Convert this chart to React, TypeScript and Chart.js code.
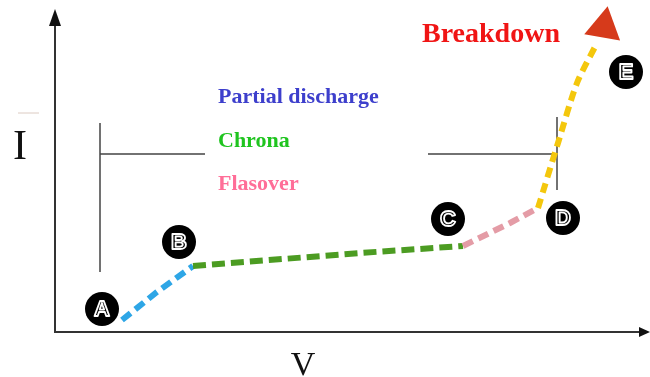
import { useEffect, useRef } from "react";
import { Chart, registerables } from "chart.js";

Chart.register(...registerables);

// Data space: V (horizontal) and I (vertical), axis origin at (0, 0)
const vMax = 595;
const iMax = 327;
const axisTopI = 323;

// Curve segments as [V, I] pairs
const partialDischarge: [number, number][] = [[67, 12], [102, 40], [138, 66]];
const chrona: [number, number][] = [[138, 66], [305, 79], [408, 86]];
const flasover: [number, number][] = [[408, 86], [455, 109], [483, 124]];
const breakdown: [number, number][] = [[483, 124], [503, 189], [522, 249], [542, 289]];
const arrowHead: [number, number][] = [[549, 305]];

// Marked stages
const stageNames = ["A", "B", "C", "D", "E"];
const stageV = [47, 124, 393, 508, 571];
const stageI = [23, 90, 113, 114, 260];

// Bracket guide lines (null separates pieces)
const bracketLines: ([number, number] | null)[] = [
  [45, 209], [45, 60], null,
  [45, 178], [150, 178], null,
  [373, 178], [502, 178], null,
  [502, 215], [502, 142],
];

// Text annotations
const noteTexts = ["Breakdown", "Partial discharge", "Chrona", "Flasover"];
const noteV = [367, 163, 163, 163];
const noteI = [290, 229, 185, 142];

const xTitle = "V";
const yTitle = "I";

const toPts = (arr: ([number, number] | null)[]) =>
  arr.map((p) => (p ? { x: p[0], y: p[1] } : { x: NaN, y: NaN }));

export default function App() {
  const ref = useRef<HTMLCanvasElement | null>(null);

  useEffect(() => {
    if (!ref.current) return;

    const overlay = {
      id: "overlay",
      beforeDatasetsDraw(chart: any) {
        const { ctx, scales } = chart;
        const x = scales.x;
        const y = scales.y;
        const ox = x.getPixelForValue(0);
        const oy = y.getPixelForValue(0);
        const topY = y.getPixelForValue(axisTopI);
        const rightX = x.getPixelForValue(vMax);
        ctx.save();
        ctx.strokeStyle = "#333";
        ctx.fillStyle = "#111";
        ctx.lineWidth = 2;
        ctx.beginPath();
        ctx.moveTo(ox, topY + 14);
        ctx.lineTo(ox, oy);
        ctx.lineTo(rightX - 9, oy);
        ctx.stroke();
        // y arrow
        ctx.beginPath();
        ctx.moveTo(ox, topY);
        ctx.lineTo(ox - 6, topY + 17);
        ctx.lineTo(ox + 6, topY + 17);
        ctx.closePath();
        ctx.fill();
        // x arrow
        ctx.beginPath();
        ctx.moveTo(rightX, oy);
        ctx.lineTo(rightX - 11, oy - 5);
        ctx.lineTo(rightX - 11, oy + 5);
        ctx.closePath();
        ctx.fill();

        // axis titles
        ctx.fillStyle = "#111";
        ctx.textAlign = "center";
        ctx.textBaseline = "alphabetic";
        ctx.font = "42px 'Liberation Serif'";
        ctx.fillText(yTitle, x.getPixelForValue(-35), y.getPixelForValue(173));
        ctx.font = "34px 'Liberation Serif'";
        ctx.fillText(xTitle, x.getPixelForValue(248), y.getPixelForValue(-43));
        // small mark above I
        ctx.strokeStyle = "#dccbc2";
        ctx.lineWidth = 1;
        ctx.beginPath();
        ctx.moveTo(x.getPixelForValue(-37) - 0, y.getPixelForValue(219));
        ctx.lineTo(x.getPixelForValue(-16), y.getPixelForValue(219));
        ctx.stroke();

        // notes
        const colors = ["#f01515", "#3d3fcc", "#1fc41f", "#ff6e98"];
        const fonts = [
          "bold 28px 'Liberation Serif'",
          "bold 22px 'Liberation Serif'",
          "bold 22px 'Liberation Serif'",
          "bold 22px 'Liberation Serif'",
        ];
        ctx.textAlign = "left";
        noteTexts.forEach((t, i) => {
          ctx.font = fonts[i];
          ctx.fillStyle = colors[i];
          ctx.fillText(t, x.getPixelForValue(noteV[i]), y.getPixelForValue(noteI[i]));
        });
        ctx.restore();
      },
      afterDatasetsDraw(chart: any) {
        const { ctx, scales } = chart;
        ctx.save();
        ctx.font = "bold 22px 'Liberation Sans'";
        ctx.textAlign = "center";
        ctx.textBaseline = "middle";
        ctx.strokeStyle = "#ffffff";
        ctx.lineWidth = 1.8;
        ctx.lineJoin = "round";
        stageNames.forEach((n, i) => {
          const px = scales.x.getPixelForValue(stageV[i]);
          const py = scales.y.getPixelForValue(stageI[i]);
          ctx.strokeText(n, px, py + 1);
        });
        ctx.restore();
      },
    };

    const segStyle = (color: string, dash: number[]) => ({
      type: "scatter" as const,
      showLine: true,
      borderColor: color,
      backgroundColor: color,
      borderWidth: 6,
      borderDash: dash,
      borderCapStyle: "butt" as const,
      pointRadius: 0,
      tension: 0,
    });

    const chart = new Chart(ref.current, {
      type: "scatter",
      data: {
        datasets: [
          {
            type: "scatter",
            data: stageV.map((v, i) => ({ x: v, y: stageI[i] })),
            pointRadius: 17,
            pointStyle: "circle",
            backgroundColor: "#000",
            borderColor: "#000",
            borderWidth: 0,
            showLine: false,
          },
          {
            type: "scatter",
            data: toPts(arrowHead),
            pointStyle: "triangle",
            pointRadius: 21,
            rotation: 10,
            backgroundColor: "#d63a1b",
            borderColor: "#d63a1b",
            borderWidth: 0,
            showLine: false,
          } as any,
          { ...segStyle("#f4c70c", [10, 6]), data: toPts(breakdown), tension: 0.25 },
          { ...segStyle("#e49ca6", [11, 6]), data: toPts(flasover) },
          { ...segStyle("#4c9c22", [13, 6]), data: toPts(chrona) },
          { ...segStyle("#2ea6e6", [11, 6]), data: toPts(partialDischarge) },
          {
            type: "scatter",
            showLine: true,
            spanGaps: false,
            data: toPts(bracketLines),
            borderColor: "#444",
            borderWidth: 1.5,
            pointRadius: 0,
          },
        ],
      },
      options: {
        animation: false,
        responsive: false,
        devicePixelRatio: 1,
        layout: { autoPadding: false, padding: { left: 55, top: 5, right: 0, bottom: 45 } },
        scales: {
          x: { type: "linear", min: 0, max: vMax, display: false },
          y: { type: "linear", min: 0, max: iMax, display: false },
        },
        plugins: { legend: { display: false }, tooltip: { enabled: false } },
      },
      plugins: [overlay],
    } as any);

    return () => chart.destroy();
  }, []);

  return (
    <div style={{ position: "absolute", left: 0, top: 0, width: 650, height: 377, background: "#fff" }}>
      <canvas ref={ref} width={650} height={377} />
    </div>
  );
}
